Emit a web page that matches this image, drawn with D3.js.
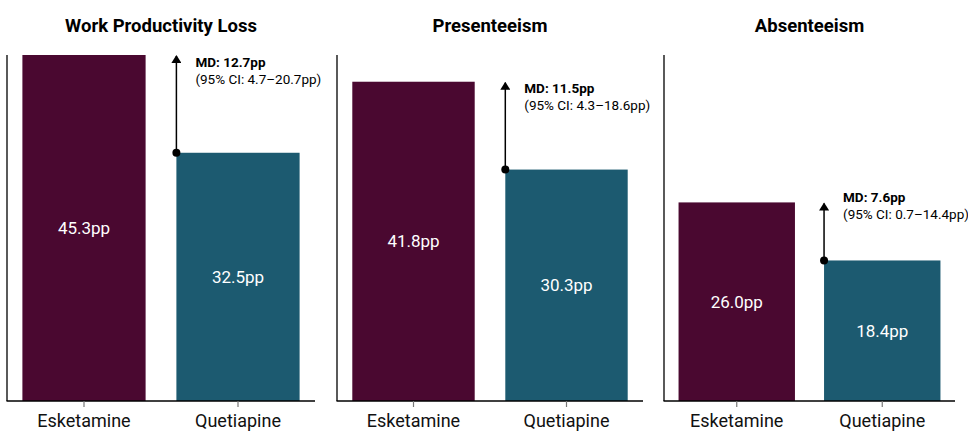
<!DOCTYPE html>
<html>
<head>
<meta charset="utf-8">
<script src="https://cdn.jsdelivr.net/npm/d3@7"></script>
<style>
  body { margin: 0; background: #fff; }
  svg text { font-family: Roboto, "Liberation Sans", sans-serif; }
</style>
</head>
<body>
<svg id="svg" width="968" height="432"></svg>
<script>
// data
var panels = ["Work Productivity Loss", "Presenteeism", "Absenteeism"];
var groups = ["Esketamine", "Quetiapine"];
var esketamine = [45.3, 41.8, 26.0];
var quetiapine = [32.5, 30.3, 18.4];
var mdLabels = ["MD: 12.7pp", "MD: 11.5pp", "MD: 7.6pp"];
var ciLabels = ["(95% CI: 4.7\u201320.7pp)", "(95% CI: 4.3\u201318.6pp)", "(95% CI: 0.7\u201314.4pp)"];

var colors = ["#4a0830", "#1c5a70"];

var svg = d3.select("svg");

// panel extents in px (x from, x to)
var panelX = [[7, 315], [337, 643], [664, 955]];
var labelDy = [12, 11, 0]; // vertical nudge of MD text under arrow tip
var plotTop = 55, plotBottom = 401;

// one y scale shared by all three panels
var yScale = d3.scaleLinear()
    .domain([0, d3.max(esketamine)])
    .range([plotBottom, plotTop]);

// arrow head
svg.append("defs").append("marker")
    .attr("id", "arrow")
    .attr("viewBox", "0 0 10 10")
    .attr("refX", 5).attr("refY", 1)
    .attr("markerWidth", 10).attr("markerHeight", 10)
    .attr("markerUnits", "userSpaceOnUse")
    .attr("orient", "0")
    .append("path")
    .attr("d", "M0,8 L5,0 L10,8 Z")
    .attr("fill", "#000");

for (var p = 0; p < panels.length; p++) {
    var vals = [esketamine[p], quetiapine[p]];
    var xScale = d3.scaleBand()
        .domain(groups)
        .range(panelX[p])
        .paddingInner(0.2)
        .paddingOuter(0.1);

    var g = svg.append("g");

    // title
    g.append("text")
        .attr("x", (panelX[p][0] + panelX[p][1]) / 2)
        .attr("y", 32)
        .attr("text-anchor", "middle")
        .attr("font-size", 18.5)
        .attr("font-weight", "bold")
        .text(panels[p]);

    // bars
    g.selectAll("rect.bar")
        .data(vals)
        .enter().append("rect")
        .attr("class", "bar")
        .attr("x", function(d, i) { return xScale(groups[i]); })
        .attr("width", xScale.bandwidth())
        .attr("y", function(d) { return yScale(d); })
        .attr("height", function(d) { return yScale(0) - yScale(d); })
        .attr("fill", function(d, i) { return colors[i]; });

    // value labels inside bars
    g.selectAll("text.val")
        .data(vals)
        .enter().append("text")
        .attr("class", "val")
        .attr("x", function(d, i) { return xScale(groups[i]) + xScale.bandwidth() / 2; })
        .attr("y", function(d) { return (yScale(d) + yScale(0)) / 2; })
        .attr("dy", "0.35em")
        .attr("text-anchor", "middle")
        .attr("font-size", 17)
        .attr("fill", "#fff")
        .text(function(d) { return d.toFixed(1) + "pp"; });

    // axes
    var xAxis = g.append("g")
        .attr("transform", "translate(0," + plotBottom + ")")
        .call(d3.axisBottom(xScale).tickSize(6).tickPadding(7));
    xAxis.select(".domain").attr("stroke", "#000").attr("stroke-width", 1.3)
        .attr("d", "M" + (panelX[p][0] - 0.5) + ",0H" + panelX[p][1]);
    xAxis.selectAll(".tick line").attr("stroke", "#777").attr("stroke-width", 1.2);
    xAxis.selectAll(".tick text")
        .attr("font-size", 18)
        .attr("fill", "#111")
        .style("font-family", "Roboto, 'Liberation Sans', sans-serif");

    g.append("line")
        .attr("x1", panelX[p][0]).attr("x2", panelX[p][0])
        .attr("y1", yScale(d3.max(esketamine))).attr("y2", plotBottom)
        .attr("stroke", "#000").attr("stroke-width", 1.3);

    // difference arrow from quetiapine top up to esketamine level
    var ax = xScale(groups[1]);
    g.append("line")
        .attr("x1", ax).attr("x2", ax)
        .attr("y1", yScale(quetiapine[p]))
        .attr("y2", yScale(esketamine[p]) + 1)
        .attr("stroke", "#000").attr("stroke-width", 1.5)
        .attr("marker-end", "url(#arrow)");
    g.append("circle")
        .attr("cx", ax).attr("cy", yScale(quetiapine[p]))
        .attr("r", 4).attr("fill", "#000");

    var ty = yScale(esketamine[p]) + labelDy[p];
    g.append("text")
        .attr("x", ax + 19).attr("y", ty)
        .attr("font-size", 13.5).attr("font-weight", "bold")
        .text(mdLabels[p]);
    g.append("text")
        .attr("x", ax + 19).attr("y", ty + 17)
        .attr("font-size", 13.5)
        .text(ciLabels[p]);
}
</script>
</body>
</html>
